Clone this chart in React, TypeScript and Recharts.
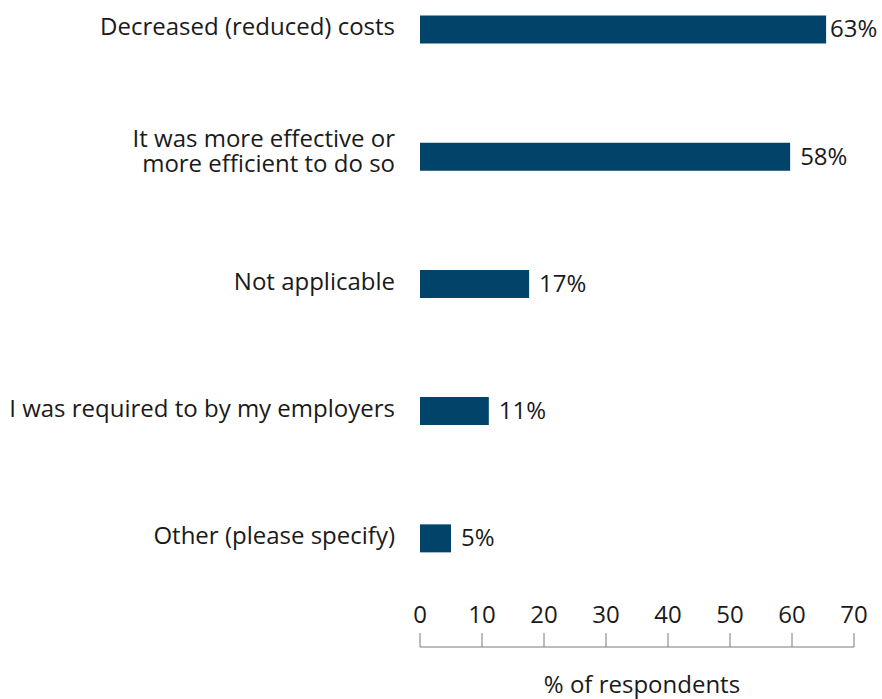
import { BarChart, Bar, XAxis, YAxis, LabelList } from "recharts";

// reasons, top to bottom
const categories = [
  "Decreased (reduced) costs",
  "It was more effective or\nmore efficient to do so",
  "Not applicable",
  "I was required to by my employers",
  "Other (please specify)",
];

// bar lengths as drawn in the picture
const barValues = [65.5, 59.7, 17.6, 11.1, 5.0];

// value labels as printed next to the bars
const valueLabels = ["63%", "58%", "17%", "11%", "5%"];

const xTicks = [0, 10, 20, 30, 40, 50, 60, 70];

const data = categories.map((name, i) => ({
  name,
  value: barValues[i],
  label: valueLabels[i],
}));

const FONT = "'Open Sans', sans-serif";
const FONT_SIZE = 24;
const TEXT = "#1a1a1a";
const BAR = "#02436a";
const AXIS = "#7a7a7a";

function CategoryTick(props: any) {
  const { x, y, payload } = props;
  const lines = String(payload.value).split("\n");
  return (
    <text x={x} y={y} textAnchor="end" fontFamily={FONT} fontSize={FONT_SIZE} fill={TEXT}>
      {lines.map((line, i) => (
        <tspan key={i} x={x} dy={i === 0 ? 6 - (lines.length - 1) * 15 : 25}>
          {line}
        </tspan>
      ))}
    </text>
  );
}

function ValueLabel(props: any) {
  const { x, y, width, height, index } = props;
  const end = Number(x) + Number(width);
  const gap = end > 800 ? 4 : 10;
  return (
    <text
      x={end + gap}
      y={Number(y) + Number(height) / 2 + 8}
      fontFamily={FONT}
      fontSize={FONT_SIZE}
      fill={TEXT}
    >
      {valueLabels[index]}
    </text>
  );
}

export default function App() {
  return (
    <div style={{ position: "absolute", left: 0, top: 0, background: "#fff" }}>
      <BarChart
        width={882}
        height={699}
        data={data}
        layout="vertical"
        margin={{ top: -34.6, right: 28, bottom: 52, left: 0 }}
      >
        <XAxis
          type="number"
          domain={[0, 70]}
          ticks={xTicks}
          mirror
          tickSize={14}
          tickMargin={10}
          axisLine={{ stroke: AXIS }}
          tickLine={{ stroke: AXIS }}
          tick={{ fill: TEXT, fontSize: FONT_SIZE, fontFamily: FONT }}
          label={{
            value: "% of respondents",
            position: "bottom",
            offset: 29,
            fill: TEXT,
            fontSize: FONT_SIZE,
            fontFamily: FONT,
            dx: 5,
          }}
        />
        <YAxis
          type="category"
          dataKey="name"
          width={420}
          tickLine={false}
          axisLine={false}
          tickSize={0}
          tickMargin={25}
          padding={{ top: 0, bottom: 45.4 }}
          tick={<CategoryTick />}
          interval={0}
        />
        <Bar dataKey="value" fill={BAR} barSize={28} isAnimationActive={false}>
          <LabelList dataKey="label" content={<ValueLabel />} />
        </Bar>
      </BarChart>
    </div>
  );
}
